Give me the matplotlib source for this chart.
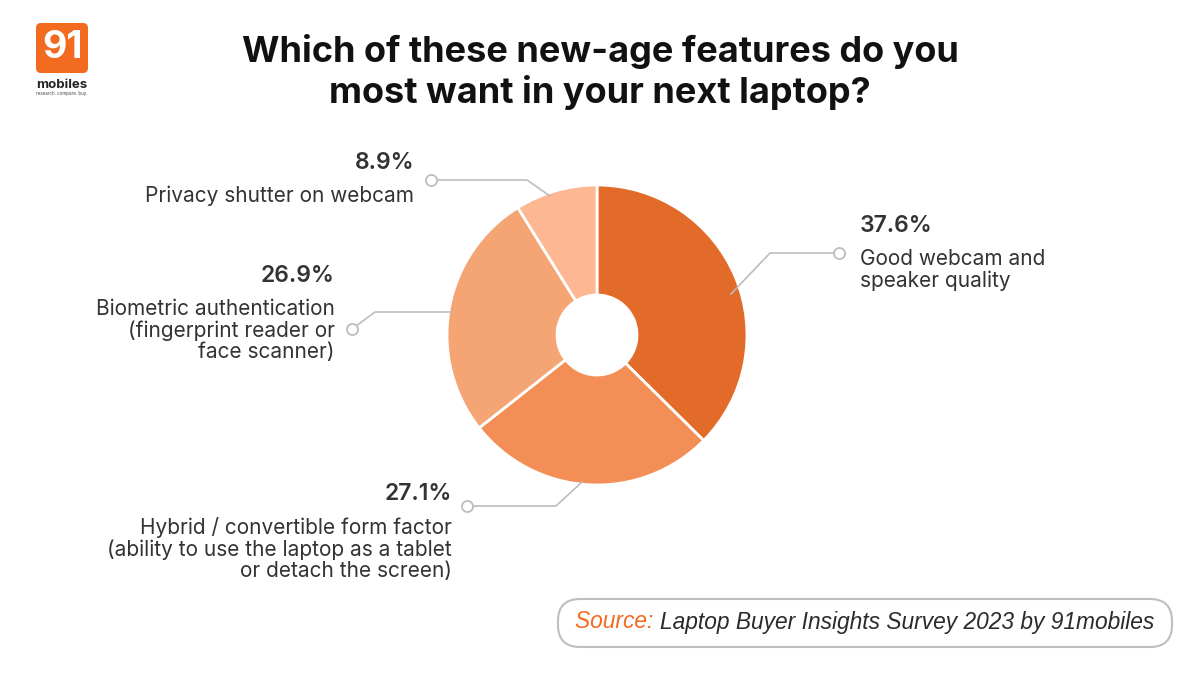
import matplotlib.pyplot as plt
from matplotlib.patches import FancyBboxPatch

plt.rcParams['font.family'] = ['Inter', 'DejaVu Sans']

# data
labels = ["Good webcam and\nspeaker quality",
          "Hybrid / convertible form factor\n(ability to use the laptop as a tablet\nor detach the screen)",
          "Biometric authentication\n(fingerprint reader or\nface scanner)",
          "Privacy shutter on webcam"]
values = [37.6, 27.1, 26.9, 8.9]
colors = ['#E36B2A', '#F38F56', '#F5A574', '#FDB792']

W, H = 1200, 675
fig = plt.figure(figsize=(12, 6.75), dpi=100)
ax = fig.add_axes([0, 0, 1, 1])
ax.set_xlim(0, W)
ax.set_ylim(0, H)
ax.set_aspect('equal')
ax.axis('off')

def Y(y):
    return H - y

# pie
cx, cy, r = 597, 335, 150
ax.pie(values, colors=colors, center=(cx, Y(cy)), radius=r, startangle=90,
       counterclock=False,
       wedgeprops=dict(width=r - 40, edgecolor='white', linewidth=2))
ax.set_xlim(0, W)
ax.set_ylim(0, H)

# leader lines (pixel coords)
leaders = [
    [(839, 253), (770, 253), (731, 294)],
    [(467, 506), (556, 506), (582, 482)],
    [(352, 329), (375, 312), (452, 312)],
    [(431, 180), (527, 180), (550, 196)],
]
for pts in leaders:
    xs = [p[0] for p in pts]
    ys = [Y(p[1]) for p in pts]
    ax.plot(xs, ys, color='#BDBDBD', lw=1.2, zorder=5)
    ax.plot(xs[0], ys[0], 'o', ms=8, mfc='white', mec='#BDBDBD', mew=1.3, zorder=6)

# label text: (x, y of pct, align)
text_pos = [(860, 226, 'left'), (452, 494, 'right'), (335, 276, 'right'), (414, 163, 'right')]
for (tx, ty, ha), v, lab in zip(text_pos, values, labels):
    ax.text(tx, Y(ty), f"{v}%", ha=ha, va='center', fontsize=16.5,
            fontweight='semibold', color='#333333')
    ax.text(tx, Y(ty + 23), lab, ha=ha, va='top', fontsize=15,
            color='#333333', linespacing=1.08, multialignment=ha)

# title
ax.text(600, Y(72), "Which of these new-age features do you\nmost want in your next laptop?",
        ha='center', va='center', fontsize=26, fontweight='bold', color='#111111',
        linespacing=1.2)

# logo
ax.add_patch(FancyBboxPatch((36, Y(73)), 52, 50, boxstyle='round,pad=0,rounding_size=5',
                            fc='#F26B21', ec='none'))
ax.text(62, Y(48), "91", ha='center', va='center', fontsize=27, fontweight='bold',
        color='white')
ax.text(62, Y(85), "mobiles", ha='center', va='center', fontsize=9.5,
        fontweight='bold', color='#222222')
ax.text(62, Y(94), "research. compare. buy.", ha='center', va='center', fontsize=3.2,
        color='#444444')

# source box
ax.add_patch(FancyBboxPatch((558, Y(647)), 614, 48,
                            boxstyle='round,pad=0,rounding_size=22',
                            fc='white', ec='#BFBFBF', lw=1.5))
t1 = ax.text(575, Y(622), "Source: ", ha='left', va='center', fontsize=16.4,
             style='italic', color='#F26B21', family='Liberation Sans')
fig.canvas.draw()
bb = t1.get_window_extent()
x2 = bb.x1
ax.text(x2, Y(622), "Laptop Buyer Insights Survey 2023 by 91mobiles", ha='left',
        va='center', fontsize=16.4, style='italic', color='#2B2B2B',
        family='Liberation Sans')

fig.savefig('out.png', dpi=100)
